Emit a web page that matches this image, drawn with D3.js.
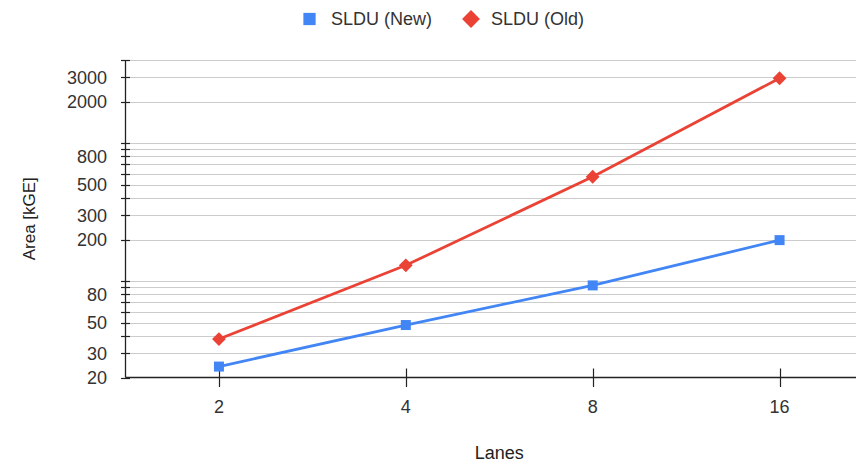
<!DOCTYPE html>
<html>
<head>
<meta charset="utf-8">
<script src="https://cdn.jsdelivr.net/npm/d3@7"></script>
<style>
  html, body { margin: 0; padding: 0; background: #fff; }
  svg { display: block; font-family: Arial, "Liberation Sans", sans-serif; }
</style>
</head>
<body>
<svg id="chart" width="856" height="464"></svg>
<script>
// Lane counts along the x axis
const lanes = ["2", "4", "8", "16"];
// Area in kGE for each design
const sldUNew = [24, 48, 93, 198];
const sldUOld = [38, 130, 570, 2950];
// Log-axis gridlines and the subset that carries a label
const yGridValues = [20, 30, 40, 50, 60, 70, 80, 90, 100,
  200, 300, 400, 500, 600, 700, 800, 900, 1000, 2000, 3000, 4000];
const yTickLabels = [20, 30, 50, 80, 200, 300, 500, 800, 2000, 3000];
const seriesNames = ["SLDU (New)", "SLDU (Old)"];
const seriesColors = ["#4285f4", "#ea4335"];

const svg = d3.select("#chart");
const plot = { left: 125.5, right: 873, top: 60, bottom: 377.5 };

const x = d3.scalePoint().domain(lanes).range([plot.left, plot.right]).padding(0.5);
const y = d3.scaleLog().domain([20, 4000]).range([plot.bottom, plot.top]);

// Horizontal gridlines
svg.append("g").selectAll("line").data(yGridValues.filter(v => v !== 20)).join("line")
  .attr("x1", plot.left).attr("x2", plot.right)
  .attr("y1", d => Math.round(y(d)) + 0.5).attr("y2", d => Math.round(y(d)) + 0.5)
  .attr("stroke", "#cccccc").attr("stroke-width", 1.2);

// Y axis: line, cross ticks and labels
const yAxis = svg.append("g");
yAxis.append("line")
  .attr("x1", plot.left).attr("x2", plot.left)
  .attr("y1", plot.top).attr("y2", plot.bottom)
  .attr("stroke", "#222").attr("stroke-width", 1.3);
yAxis.selectAll("line.tick").data(yGridValues).join("line").attr("class", "tick")
  .attr("x1", plot.left - 4.5).attr("x2", plot.left + 4.5)
  .attr("y1", d => Math.round(y(d)) + 0.5).attr("y2", d => Math.round(y(d)) + 0.5)
  .attr("stroke", "#222").attr("stroke-width", 1.2);
yAxis.selectAll("text").data(yTickLabels).join("text")
  .attr("x", 107).attr("y", d => y(d)).attr("dy", "0.36em")
  .attr("text-anchor", "end").attr("font-size", 18).attr("fill", "#333")
  .text(d => d);

// X axis: baseline, cross ticks and labels
const xAxis = svg.append("g");
xAxis.append("line")
  .attr("x1", plot.left).attr("x2", plot.right)
  .attr("y1", plot.bottom).attr("y2", plot.bottom)
  .attr("stroke", "#222").attr("stroke-width", 1.3);
xAxis.selectAll("line.tick").data(lanes).join("line").attr("class", "tick")
  .attr("x1", d => Math.round(x(d)) + 0.5).attr("x2", d => Math.round(x(d)) + 0.5)
  .attr("y1", plot.bottom - 9).attr("y2", plot.bottom + 9.5)
  .attr("stroke", "#222").attr("stroke-width", 1.2);
xAxis.selectAll("text").data(lanes).join("text")
  .attr("x", d => x(d)).attr("y", 413)
  .attr("text-anchor", "middle").attr("font-size", 18).attr("fill", "#333")
  .text(d => d);

// Axis titles
svg.append("text")
  .attr("x", (plot.left + plot.right) / 2).attr("y", 459)
  .attr("text-anchor", "middle").attr("font-size", 18).attr("fill", "#222")
  .text("Lanes");
svg.append("text")
  .attr("transform", `translate(35,${(plot.top + plot.bottom) / 2}) rotate(-90)`)
  .attr("text-anchor", "middle").attr("font-size", 17).attr("fill", "#222")
  .text("Area [kGE]");

// Marker shapes: a square, and a square turned 45° for the diamond
const markerPath = (kind, size) => d3.symbol().type(d3.symbolSquare).size(size)();
const markerRotation = ["", " rotate(45)"];

// Series lines and markers
const line = d3.line().x((d, i) => x(lanes[i])).y(d => y(d));
const seriesData = [sldUNew, sldUOld];
const markerSizes = [100, 95];

seriesData.forEach((vals, s) => {
  svg.append("path").datum(vals)
    .attr("d", line).attr("fill", "none")
    .attr("stroke", seriesColors[s]).attr("stroke-width", 2.8);
  svg.append("g").selectAll("path").data(vals).join("path")
    .attr("transform", (d, i) => `translate(${x(lanes[i])},${y(d)})${markerRotation[s]}`)
    .attr("d", markerPath(s, markerSizes[s]))
    .attr("fill", seriesColors[s]);
});

// Legend
const legendItems = [
  { size: 150, cx: 309.5, tx: 331 },
  { size: 160, cx: 471, tx: 491 }
];
const legend = svg.append("g");
legendItems.forEach((it, s) => {
  legend.append("path")
    .attr("transform", `translate(${it.cx},19)${markerRotation[s]}`)
    .attr("d", markerPath(s, it.size))
    .attr("fill", seriesColors[s]);
  legend.append("text")
    .attr("x", it.tx).attr("y", 19).attr("dy", "0.36em")
    .attr("font-size", 18).attr("fill", "#333")
    .text(seriesNames[s]);
});
</script>
</body>
</html>
